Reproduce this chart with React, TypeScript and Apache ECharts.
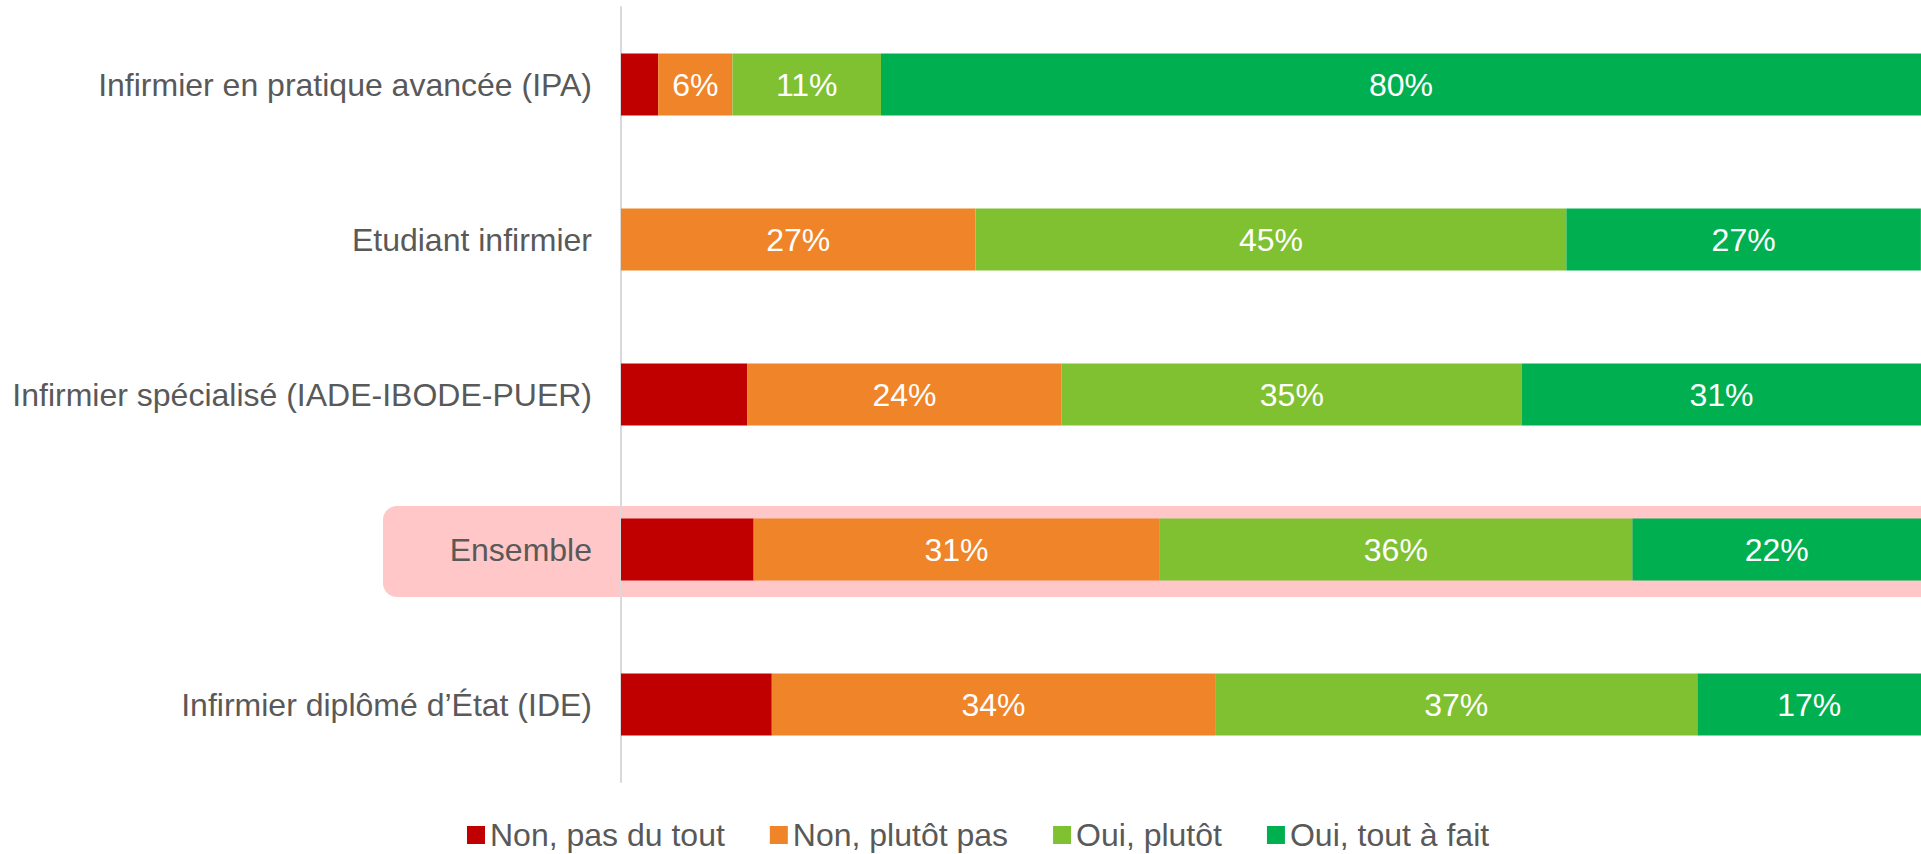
import React, { useEffect, useRef } from "react";
import * as echarts from "echarts";

const categories = [
  "Infirmier en pratique avancée (IPA)",
  "Etudiant infirmier",
  "Infirmier spécialisé (IADE-IBODE-PUER)",
  "Ensemble",
  "Infirmier diplômé d’État (IDE)",
];
const seriesNames = ["Non, pas du tout", "Non, plutôt pas", "Oui, plutôt", "Oui, tout à fait"];
const nonPasDuTout = [2.86, 0, 9.7, 10.2, 11.6];
const nonPlutotPas = [5.71, 27.27, 24.2, 31.2, 34.1];
const ouiPlutot = [11.43, 45.45, 35.4, 36.4, 37.1];
const ouiToutAFait = [80, 27.27, 30.7, 22.2, 17.2];
const colors = ["#C00000", "#F08428", "#80C132", "#00B050"];

export default function App() {
  const ref = useRef<HTMLDivElement>(null);
  useEffect(() => {
    document.body.style.margin = "0";
    if (!ref.current) return;
    const chart = echarts.init(ref.current, null, { renderer: "svg" });
    const font = "'Liberation Sans', Arial, sans-serif";
    const data = [nonPasDuTout, nonPlutotPas, ouiPlutot, ouiToutAFait];
    chart.setOption({
      animation: false,
      textStyle: { fontFamily: font },
      grid: { left: 621, right: 0, top: 7, bottom: 72, containLabel: false },
      xAxis: { type: "value", min: 0, max: 100, show: false },
      yAxis: {
        type: "category",
        data: categories,
        inverse: true,
        axisLine: { show: true, lineStyle: { color: "#D9D9D9", width: 2 } },
        axisTick: { show: false },
        axisLabel: { color: "#595959", fontSize: 32, margin: 29, fontFamily: font },
        splitLine: { show: false },
      },
      legend: {
        left: 467,
        top: 818,
        padding: 0,
        icon: "rect",
        itemWidth: 18,
        itemHeight: 18,
        itemGap: 45,
        textStyle: { color: "#595959", fontSize: 32, lineHeight: 34, fontFamily: font },
        data: seriesNames,
      },
      graphic: [
        {
          type: "rect",
          z: -10,
          shape: { x: 383, y: 506, width: 1560, height: 91, r: 14 },
          style: { fill: "#FFC7C7" },
        },
      ],
      series: seriesNames.map((name, i) => ({
        name,
        type: "bar",
        stack: "total",
        barWidth: 62,
        itemStyle: { color: colors[i] },
        label: {
          show: i > 0,
          position: "inside",
          color: "#FFFFFF",
          fontSize: 32,
          fontFamily: font,
          formatter: (p: any) => (p.value > 0 ? Math.round(p.value) + "%" : ""),
        },
        data: data[i],
      })),
    });
    return () => chart.dispose();
  }, []);
  return <div ref={ref} style={{ width: 1921, height: 854 }} />;
}
